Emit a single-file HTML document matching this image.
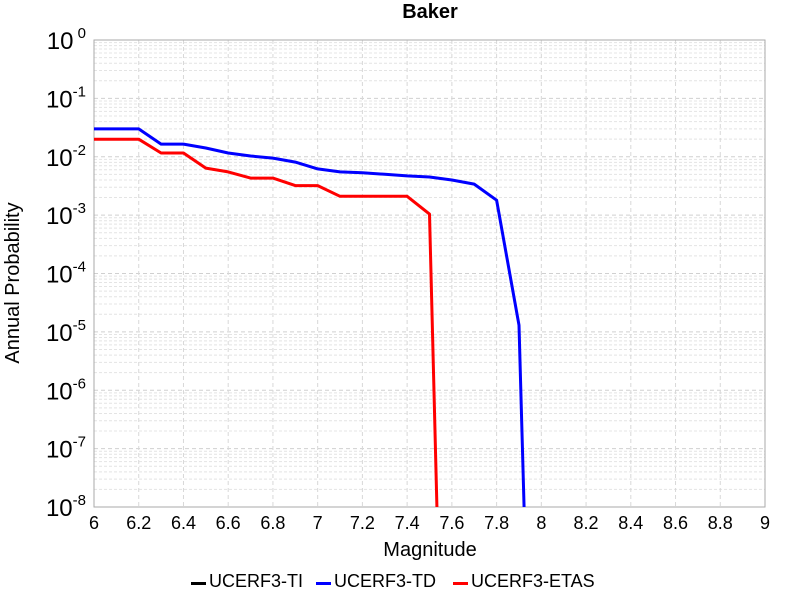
<!DOCTYPE html>
<html><head><meta charset="utf-8"><style>
body{margin:0;background:#fff;}
svg{font-family:"Liberation Sans",sans-serif;display:block;}
</style></head><body>
<svg id="chart" width="800" height="600">
<text x="430" y="18" text-anchor="middle" font-size="20" font-weight="bold">Baker</text>
<g id="grid"></g>
<g id="axes"></g>
<defs><clipPath id="clip"><rect x="94" y="40" width="671" height="467"/></clipPath></defs>
<g id="series" clip-path="url(#clip)"></g>
<text x="430" y="556" text-anchor="middle" font-size="20">Magnitude</text>
<text transform="translate(19,283) rotate(-90)" text-anchor="middle" font-size="20">Annual Probability</text>
<g>
<g><rect x="191" y="582" width="15" height="3" fill="#000"/><text x="209" y="587" font-size="18">UCERF3-TI</text></g>
<g><rect x="316" y="582" width="15" height="3" fill="#00f"/><text x="334" y="587" font-size="18">UCERF3-TD</text></g>
<g><rect x="453" y="582" width="15" height="3" fill="#f00"/><text x="471" y="587" font-size="18">UCERF3-ETAS</text></g>
</g>
</svg>
<script>
const xTicks=[6,6.2,6.4,6.6,6.8,7,7.2,7.4,7.6,7.8,8,8.2,8.4,8.6,8.8,9];
const yDecades=[0,-1,-2,-3,-4,-5,-6,-7,-8];
const tdMags=[6.0,6.2,6.3,6.4,6.5,6.6,6.7,6.8,6.9,7.0,7.1,7.2,7.3,7.4,7.5,7.6,7.7,7.8,7.9,7.93];
const tdProbs=[0.030,0.030,0.0165,0.0165,0.0141,0.0116,0.0103,0.0095,0.0081,0.0062,0.0055,0.0053,0.0050,0.0047,0.0045,0.0040,0.0034,0.0018,1.3e-5,1e-9];
const etasMags=[6.0,6.2,6.3,6.4,6.5,6.6,6.7,6.8,6.9,7.0,7.1,7.4,7.5,7.54];
const etasProbs=[0.020,0.020,0.0116,0.0116,0.0064,0.0055,0.0043,0.0043,0.0032,0.0032,0.0021,0.0021,0.00104,1e-9];
const X0=94,X1=765,Y0=40,Y1=507;
const xs=m=>X0+(m-6)/3*(X1-X0);
const ys=p=>Y0+(-Math.log10(p))/8*(Y1-Y0);
const NS='http://www.w3.org/2000/svg';
function mk(tag,attrs,parent){const e=document.createElementNS(NS,tag);for(const k in attrs)e.setAttribute(k,attrs[k]);parent.appendChild(e);return e;}
const grid=document.getElementById('grid'),axes=document.getElementById('axes'),series=document.getElementById('series');
mk('rect',{x:X0,y:Y0,width:X1-X0,height:Y1-Y0,fill:'#fff'},grid);
for(let d=0;d<8;d++){for(let k=2;k<=9;k++){const y=ys(Math.pow(10,-d-1)*k);
const l=mk('line',{x1:X0,x2:X1,y1:y,y2:y,stroke:'#e4e4e4','stroke-width':1,'stroke-dasharray':'3,2'},grid);

}}
yDecades.forEach(d=>{const y=ys(Math.pow(10,d));
const l=mk('line',{x1:X0,x2:X1,y1:y,y2:y,stroke:'#d0d0d0','stroke-width':1,'stroke-dasharray':'4,3'},grid);


const t=mk('text',{x:86,y:y+9,'text-anchor':'end','font-size':24},axes);


t.textContent='10';
const s=mk('tspan',{dy:-11,'font-size':15},t);s.textContent=d===0?' 0':String(d);});
xTicks.forEach(m=>{const x=xs(m);
const l=mk('line',{x1:x,x2:x,y1:Y0,y2:Y1,stroke:'#d8d8d8','stroke-width':1,'stroke-dasharray':'4,3'},grid);


const t=mk('text',{x:x,y:529,'text-anchor':'middle','font-size':18},axes);


t.textContent=String(m);});
const fr=mk('rect',{x:X0,y:Y0,width:X1-X0,height:Y1-Y0,fill:'none',stroke:'#aaa','stroke-width':1},axes);


function line(mags,probs,color,name){const d=mags.map((m,i)=>(i?'L':'M')+xs(m).toFixed(1)+','+ys(probs[i]).toFixed(1)).join('');
const p=mk('path',{d:d,fill:'none',stroke:color,'stroke-width':3,'stroke-linejoin':'round'},series);

}
line(etasMags,etasProbs,'#f00','ucerf3-etas-line');
line(tdMags,tdProbs,'#00f','ucerf3-td-line');
</script>
</body></html>
